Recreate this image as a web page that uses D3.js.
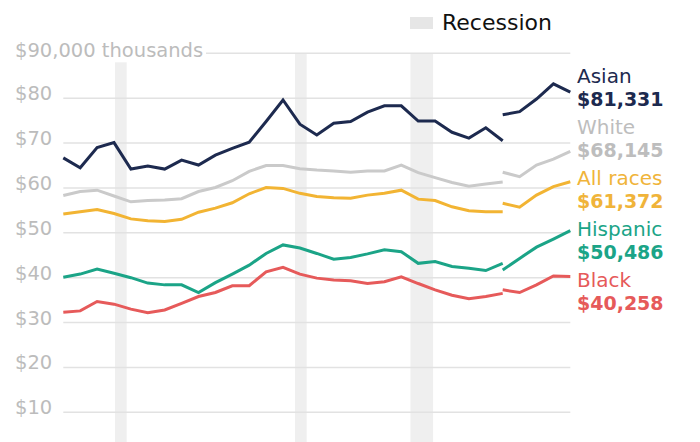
<!DOCTYPE html>
<html><head><meta charset="utf-8">
<script src="https://cdn.jsdelivr.net/npm/d3@7"></script>
<style>
html,body{margin:0;padding:0;background:#fff;}
svg{display:block;font-family:"DejaVu Sans",sans-serif;}
</style>
</head><body>
<svg id="chart" width="700" height="442"></svg>
<script>
// ---- Data (median household income, thousands of 2017 dollars) ----
const years1 = d3.range(1987, 2014);           // 1987..2013 (old method)
const years2 = [2013, 2014, 2015, 2016, 2017]; // 2013..2017 (new method)

const asian1 = [66.7, 64.5, 69.0, 70.1, 64.2, 64.9, 64.2, 66.2, 65.1, 67.3,
                68.8, 70.2, 74.8, 79.6, 74.2, 71.8, 74.4, 74.8, 76.9, 78.3,
                78.3, 74.9, 74.9, 72.4, 71.1, 73.4, 70.5];
const asian2 = [76.3, 77.0, 79.8, 83.2, 81.331];

const white1 = [58.3, 59.2, 59.5, 58.2, 56.9, 57.2, 57.3, 57.6, 59.2, 60.1,
                61.6, 63.7, 65.0, 65.0, 64.3, 64.0, 63.8, 63.5, 63.8, 63.8,
                65.1, 63.4, 62.3, 61.2, 60.4, 60.9, 61.3];
const white2 = [63.5, 62.5, 65.1, 66.4, 68.145];

const all1 = [54.2, 54.7, 55.2, 54.3, 53.1, 52.7, 52.5, 53.0, 54.6, 55.5,
              56.7, 58.7, 60.1, 59.9, 58.8, 58.1, 57.8, 57.7, 58.4, 58.8,
              59.5, 57.5, 57.2, 55.8, 54.9, 54.7, 54.7];
const all2 = [56.6, 55.7, 58.4, 60.3, 61.372];

const hisp1 = [40.1, 40.8, 41.9, 41.0, 40.0, 38.8, 38.4, 38.4, 36.7, 38.9,
               40.8, 42.8, 45.4, 47.3, 46.6, 45.4, 44.1, 44.5, 45.3, 46.2,
               45.8, 43.2, 43.6, 42.5, 42.1, 41.6, 43.2];
const hisp2 = [41.7, 44.3, 46.8, 48.6, 50.486];

const black1 = [32.3, 32.6, 34.7, 34.1, 33.0, 32.2, 32.8, 34.3, 35.8, 36.7,
                38.2, 38.2, 41.3, 42.3, 40.8, 39.9, 39.5, 39.3, 38.7, 39.1,
                40.2, 38.7, 37.3, 36.1, 35.3, 35.8, 36.5];
const black2 = [37.3, 36.7, 38.4, 40.4, 40.258];

const seriesNames  = ["Asian", "White", "All races", "Hispanic", "Black"];
const valueLabels  = ["$81,331", "$68,145", "$61,372", "$50,486", "$40,258"];
const lineColors   = ["#1d2a4f", "#cacaca", "#f2b433", "#1ba487", "#e65a5a"];
const textColors   = ["#1d2a4f", "#bdbdbd", "#f0b43a", "#1ba487", "#e65a5a"];

const yTicks = [10, 20, 30, 40, 50, 60, 70, 80];
const yTickLabels = ["$10", "$20", "$30", "$40", "$50", "$60", "$70", "$80"];
const topTick = 90;
const topTickLabel = "$90,000 thousands";

// recession bands (in chart year units, as drawn)
const recessionStart = [1990.06, 2000.71, 2007.54];
const recessionEnd   = [1990.75, 2001.40, 2008.88];
const legendLabel = "Recession";

// ---- Build ----
const series = [
  {seg: [asian1, asian2]},
  {seg: [white1, white2]},
  {seg: [all1, all2]},
  {seg: [hisp1, hisp2]},
  {seg: [black1, black2]}
].map((s, i) => ({
  name: seriesNames[i], value: valueLabels[i],
  color: lineColors[i], text: textColors[i],
  parts: [years1.map((yr, j) => ({year: yr, v: s.seg[0][j]})),
          years2.map((yr, j) => ({year: yr, v: s.seg[1][j]}))]
}));

const svg = d3.select("#chart");
const x = d3.scaleLinear().domain([1987, 2017]).range([63.3, 570.3]);
const y = d3.scaleLinear().domain([0, 90]).range([457.2, 53.3]);

// recession bands
svg.append("g").selectAll("rect")
  .data(recessionStart.map((s, i) => [s, recessionEnd[i]]))
  .join("rect")
  .attr("x", d => x(d[0]))
  .attr("width", d => x(d[1]) - x(d[0]))
  .attr("y", y(topTick))
  .attr("height", y(0) - y(topTick))
  .attr("fill", "#efefef");

// gridlines
svg.append("g").selectAll("line")
  .data(yTicks.concat([topTick]))
  .join("line")
  .attr("x1", x(1987)).attr("x2", x(2017))
  .attr("y1", d => y(d)).attr("y2", d => y(d))
  .attr("stroke", "#e2e2e2").attr("stroke-width", 1.5);

// y labels
svg.append("g").selectAll("text")
  .data(yTicks)
  .join("text")
  .attr("x", 15)
  .attr("y", d => y(d) + 2)
  .attr("font-size", 19.5)
  .attr("fill", "#bcbcbc")
  .text((d, i) => yTickLabels[i]);

// top label with white backing
svg.append("rect").attr("x", 0).attr("y", y(topTick) - 16).attr("width", 206).attr("height", 25).attr("fill", "#fff");
svg.append("text")
  .attr("x", 15).attr("y", y(topTick) + 3.5)
  .attr("font-size", 19.5).attr("fill", "#bcbcbc")
  .text(topTickLabel);

// lines
const line = d3.line().x(d => x(d.year)).y(d => y(d.v));
const lg = svg.append("g");
series.slice().reverse().forEach(s => {
  s.parts.forEach(p => {
    lg.append("path").datum(p)
      .attr("d", line)
      .attr("fill", "none")
      .attr("stroke", s.color)
      .attr("stroke-width", 3)
      .attr("stroke-linejoin", "miter");
  });
});

// end labels with simple collision avoidance
const gap = 51;
const desired = series.map(s => y(s.parts[1][s.parts[1].length - 1].v));
let clusters = desired.map((d, i) => ({start: i, n: 1, sum: d}));
function pos(c) { return c.sum / c.n - (c.n - 1) * gap / 2; }
let changed = true;
while (changed) {
  changed = false;
  for (let i = 0; i < clusters.length - 1; i++) {
    const a = clusters[i], b = clusters[i + 1];
    const aEnd = pos(a) + (a.n - 1) * gap;
    if (pos(b) - aEnd < gap) {
      const merged = {start: a.start, n: a.n + b.n, sum: 0};
      let acc = 0;
      for (let k = 0; k < merged.n; k++) acc += desired[a.start + k] - k * gap;
      merged.sum = (acc / merged.n + (merged.n - 1) * gap / 2) * merged.n;
      clusters.splice(i, 2, merged);
      changed = true;
      break;
    }
  }
}
const labelY = [];
clusters.forEach(c => { for (let k = 0; k < c.n; k++) labelY[c.start + k] = pos(c) + k * gap; });

const lab = svg.append("g").selectAll("g").data(series).join("g");
lab.append("text")
  .attr("x", 577).attr("y", (d, i) => labelY[i] - 1.8)
  .attr("font-size", 20).attr("fill", d => d.text)
  .text(d => d.name);
lab.append("text")
  .attr("x", 577).attr("y", (d, i) => labelY[i] + 21)
  .attr("font-size", 19).attr("font-weight", "bold").attr("fill", d => d.text)
  .text(d => d.value);

// legend
svg.append("rect").attr("x", 410).attr("y", 17).attr("width", 23).attr("height", 12).attr("fill", "#e6e6e6");
svg.append("text").attr("x", 442).attr("y", 30).attr("font-size", 22).attr("fill", "#111").text(legendLabel);
</script>
</body></html>
